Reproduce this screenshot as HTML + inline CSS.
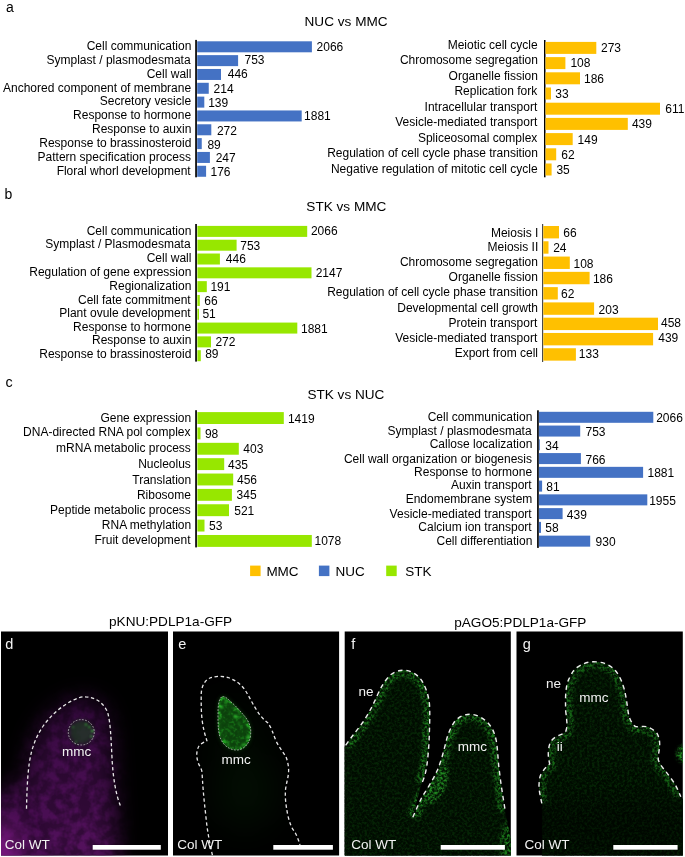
<!DOCTYPE html>
<html><head><meta charset="utf-8"><style>
html,body{margin:0;padding:0;background:#fff;}
body{width:685px;height:857px;overflow:hidden;}
svg{display:block;will-change:transform;}
text{font-family:"Liberation Sans",sans-serif;}
</style></head><body>
<svg width="685" height="857" viewBox="0 0 685 857">
<rect width="685" height="857" fill="#fff"/>
<rect x="195.2" y="39.9" width="1.70" height="137.40" fill="#000"/>
<rect x="197.2" y="41.30" width="114.70" height="11.0" fill="#4472C4"/>
<text x="191.38" y="49.80" font-size="12" fill="#000" text-anchor="end">Cell communication</text>
<text x="316.60" y="50.90" font-size="12" fill="#000" >2066</text>
<rect x="197.2" y="55.13" width="40.90" height="11.0" fill="#4472C4"/>
<text x="190.60" y="63.70" font-size="12" fill="#000" text-anchor="end">Symplast / plasmodesmata</text>
<text x="244.48" y="64.20" font-size="12" fill="#000" >753</text>
<rect x="197.2" y="68.96" width="23.80" height="11.0" fill="#4472C4"/>
<text x="191.40" y="77.70" font-size="12" fill="#000" text-anchor="end">Cell wall</text>
<text x="227.72" y="78.00" font-size="12" fill="#000" >446</text>
<rect x="197.2" y="82.79" width="11.55" height="11.0" fill="#4472C4"/>
<text x="191.13" y="91.50" font-size="12" fill="#000" text-anchor="end">Anchored component of membrane</text>
<text x="213.60" y="92.80" font-size="12" fill="#000" >214</text>
<rect x="197.2" y="96.62" width="7.10" height="11.0" fill="#4472C4"/>
<text x="191.13" y="105.40" font-size="12" fill="#000" text-anchor="end">Secretory vesicle</text>
<text x="208.19" y="106.80" font-size="12" fill="#000" >139</text>
<rect x="197.2" y="110.45" width="104.50" height="11.0" fill="#4472C4"/>
<text x="191.13" y="119.00" font-size="12" fill="#000" text-anchor="end">Response to hormone</text>
<text x="304.09" y="119.50" font-size="12" fill="#000" >1881</text>
<rect x="197.2" y="124.28" width="14.10" height="11.0" fill="#4472C4"/>
<text x="191.38" y="132.90" font-size="12" fill="#000" text-anchor="end">Response to auxin</text>
<text x="216.90" y="135.20" font-size="12" fill="#000" >272</text>
<rect x="197.2" y="138.11" width="4.55" height="11.0" fill="#4472C4"/>
<text x="191.37" y="146.80" font-size="12" fill="#000" text-anchor="end">Response to brassinosteroid</text>
<text x="207.38" y="148.80" font-size="12" fill="#000" >89</text>
<rect x="197.2" y="151.94" width="12.70" height="11.0" fill="#4472C4"/>
<text x="191.03" y="160.70" font-size="12" fill="#000" text-anchor="end">Pattern specification process</text>
<text x="215.70" y="162.20" font-size="12" fill="#000" >247</text>
<rect x="197.2" y="165.77" width="8.90" height="11.0" fill="#4472C4"/>
<text x="190.69" y="174.60" font-size="12" fill="#000" text-anchor="end">Floral whorl development</text>
<text x="210.49" y="176.20" font-size="12" fill="#000" >176</text>
<rect x="544" y="40" width="1.50" height="137.30" fill="#000"/>
<rect x="545.5" y="41.90" width="50.80" height="12.0" fill="#FFC000"/>
<text x="537.73" y="48.60" font-size="12" fill="#000" text-anchor="end">Meiotic cell cycle</text>
<text x="601.00" y="52.20" font-size="12" fill="#000" >273</text>
<rect x="545.5" y="57.10" width="19.90" height="12.0" fill="#FFC000"/>
<text x="537.98" y="63.90" font-size="12" fill="#000" text-anchor="end">Chromosome segregation</text>
<text x="570.39" y="67.40" font-size="12" fill="#000" >108</text>
<rect x="545.5" y="72.30" width="34.50" height="12.0" fill="#FFC000"/>
<text x="537.98" y="79.70" font-size="12" fill="#000" text-anchor="end">Organelle fission</text>
<text x="583.99" y="82.80" font-size="12" fill="#000" >186</text>
<rect x="545.5" y="87.50" width="5.50" height="12.0" fill="#FFC000"/>
<text x="537.18" y="95.20" font-size="12" fill="#000" text-anchor="end">Replication fork</text>
<text x="555.34" y="98.00" font-size="12" fill="#000" >33</text>
<rect x="545.5" y="102.70" width="114.50" height="12.0" fill="#FFC000"/>
<text x="537.29" y="110.60" font-size="12" fill="#000" text-anchor="end">Intracellular transport</text>
<text x="665.29" y="113.00" font-size="12" fill="#000" >611</text>
<rect x="545.5" y="117.90" width="82.30" height="12.0" fill="#FFC000"/>
<text x="537.29" y="126.40" font-size="12" fill="#000" text-anchor="end">Vesicle-mediated transport</text>
<text x="631.92" y="128.00" font-size="12" fill="#000" >439</text>
<rect x="545.5" y="133.10" width="27.20" height="12.0" fill="#FFC000"/>
<text x="537.33" y="141.90" font-size="12" fill="#000" text-anchor="end">Spliceosomal complex</text>
<text x="577.59" y="143.60" font-size="12" fill="#000" >149</text>
<rect x="545.5" y="148.30" width="10.70" height="12.0" fill="#FFC000"/>
<text x="537.98" y="157.40" font-size="12" fill="#000" text-anchor="end">Regulation of cell cycle phase transition</text>
<text x="561.29" y="158.70" font-size="12" fill="#000" >62</text>
<rect x="545.5" y="163.50" width="6.10" height="12.0" fill="#FFC000"/>
<text x="537.73" y="172.90" font-size="12" fill="#000" text-anchor="end">Negative regulation of mitotic cell cycle</text>
<text x="556.44" y="173.70" font-size="12" fill="#000" >35</text>
<rect x="195.2" y="224" width="1.70" height="137.60" fill="#000"/>
<rect x="197.4" y="225.90" width="109.80" height="11.0" fill="#97E700"/>
<text x="191.38" y="234.70" font-size="12" fill="#000" text-anchor="end">Cell communication</text>
<text x="310.90" y="235.40" font-size="12" fill="#000" >2066</text>
<rect x="197.4" y="239.71" width="39.20" height="11.0" fill="#97E700"/>
<text x="190.60" y="248.30" font-size="12" fill="#000" text-anchor="end">Symplast / Plasmodesmata</text>
<text x="240.28" y="249.70" font-size="12" fill="#000" >753</text>
<rect x="197.4" y="253.52" width="22.50" height="11.0" fill="#97E700"/>
<text x="191.40" y="262.00" font-size="12" fill="#000" text-anchor="end">Cell wall</text>
<text x="225.82" y="263.30" font-size="12" fill="#000" >446</text>
<rect x="197.4" y="267.33" width="114.10" height="11.0" fill="#97E700"/>
<text x="191.38" y="276.20" font-size="12" fill="#000" text-anchor="end">Regulation of gene expression</text>
<text x="315.70" y="277.20" font-size="12" fill="#000" >2147</text>
<rect x="197.4" y="281.14" width="9.40" height="11.0" fill="#97E700"/>
<text x="191.38" y="290.00" font-size="12" fill="#000" text-anchor="end">Regionalization</text>
<text x="210.39" y="290.60" font-size="12" fill="#000" >191</text>
<rect x="197.4" y="294.95" width="2.40" height="11.0" fill="#97E700"/>
<text x="190.69" y="304.10" font-size="12" fill="#000" text-anchor="end">Cell fate commitment</text>
<text x="204.29" y="305.00" font-size="12" fill="#000" >66</text>
<rect x="197.4" y="308.76" width="1.60" height="11.0" fill="#97E700"/>
<text x="190.69" y="316.90" font-size="12" fill="#000" text-anchor="end">Plant ovule development</text>
<text x="202.42" y="318.10" font-size="12" fill="#000" >51</text>
<rect x="197.4" y="322.57" width="99.90" height="11.0" fill="#97E700"/>
<text x="191.13" y="330.50" font-size="12" fill="#000" text-anchor="end">Response to hormone</text>
<text x="300.99" y="332.50" font-size="12" fill="#000" >1881</text>
<rect x="197.4" y="336.38" width="13.60" height="11.0" fill="#97E700"/>
<text x="191.38" y="344.30" font-size="12" fill="#000" text-anchor="end">Response to auxin</text>
<text x="215.40" y="346.30" font-size="12" fill="#000" >272</text>
<rect x="197.4" y="350.19" width="3.40" height="11.0" fill="#97E700"/>
<text x="191.37" y="358.00" font-size="12" fill="#000" text-anchor="end">Response to brassinosteroid</text>
<text x="205.18" y="357.70" font-size="12" fill="#000" >89</text>
<rect x="542" y="224" width="1.20" height="138.00" fill="#4a4a4a"/>
<rect x="543.3" y="226.00" width="15.70" height="12.4" fill="#FFC000"/>
<text x="538.31" y="236.50" font-size="12" fill="#000" text-anchor="end">Meiosis I</text>
<text x="563.29" y="236.80" font-size="12" fill="#000" >66</text>
<rect x="543.3" y="241.28" width="5.20" height="12.4" fill="#FFC000"/>
<text x="538.31" y="251.10" font-size="12" fill="#000" text-anchor="end">Meiosis II</text>
<text x="553.20" y="251.70" font-size="12" fill="#000" >24</text>
<rect x="543.3" y="256.56" width="26.50" height="12.4" fill="#FFC000"/>
<text x="537.98" y="266.10" font-size="12" fill="#000" text-anchor="end">Chromosome segregation</text>
<text x="573.49" y="267.80" font-size="12" fill="#000" >108</text>
<rect x="543.3" y="271.84" width="46.30" height="12.4" fill="#FFC000"/>
<text x="537.98" y="280.80" font-size="12" fill="#000" text-anchor="end">Organelle fission</text>
<text x="592.89" y="282.70" font-size="12" fill="#000" >186</text>
<rect x="543.3" y="287.12" width="14.50" height="12.4" fill="#FFC000"/>
<text x="537.98" y="296.40" font-size="12" fill="#000" text-anchor="end">Regulation of cell cycle phase transition</text>
<text x="561.09" y="297.50" font-size="12" fill="#000" >62</text>
<rect x="543.3" y="302.40" width="50.80" height="12.4" fill="#FFC000"/>
<text x="537.98" y="311.70" font-size="12" fill="#000" text-anchor="end">Developmental cell growth</text>
<text x="598.60" y="313.70" font-size="12" fill="#000" >203</text>
<rect x="543.3" y="317.68" width="114.70" height="12.4" fill="#FFC000"/>
<text x="537.29" y="326.60" font-size="12" fill="#000" text-anchor="end">Protein transport</text>
<text x="661.02" y="326.50" font-size="12" fill="#000" >458</text>
<rect x="543.3" y="332.96" width="109.80" height="12.4" fill="#FFC000"/>
<text x="537.29" y="341.90" font-size="12" fill="#000" text-anchor="end">Vesicle-mediated transport</text>
<text x="658.22" y="342.00" font-size="12" fill="#000" >439</text>
<rect x="543.3" y="348.24" width="32.60" height="12.4" fill="#FFC000"/>
<text x="538.00" y="356.60" font-size="12" fill="#000" text-anchor="end">Export from cell</text>
<text x="578.79" y="358.40" font-size="12" fill="#000" >133</text>
<rect x="195.2" y="410.2" width="1.70" height="137.20" fill="#000"/>
<rect x="197.4" y="412.10" width="86.40" height="11.9" fill="#97E700"/>
<text x="191.18" y="421.50" font-size="12" fill="#000" text-anchor="end">Gene expression</text>
<text x="287.89" y="422.70" font-size="12" fill="#000" >1419</text>
<rect x="197.4" y="427.46" width="3.10" height="11.9" fill="#97E700"/>
<text x="190.53" y="436.20" font-size="12" fill="#000" text-anchor="end">DNA-directed RNA pol complex</text>
<text x="204.94" y="437.90" font-size="12" fill="#000" >98</text>
<rect x="197.4" y="442.82" width="41.40" height="11.9" fill="#97E700"/>
<text x="190.83" y="452.10" font-size="12" fill="#000" text-anchor="end">mRNA metabolic process</text>
<text x="243.32" y="453.20" font-size="12" fill="#000" >403</text>
<rect x="197.4" y="458.18" width="26.80" height="11.9" fill="#97E700"/>
<text x="190.83" y="467.60" font-size="12" fill="#000" text-anchor="end">Nucleolus</text>
<text x="228.02" y="468.50" font-size="12" fill="#000" >435</text>
<rect x="197.4" y="473.54" width="35.80" height="11.9" fill="#97E700"/>
<text x="191.18" y="483.90" font-size="12" fill="#000" text-anchor="end">Translation</text>
<text x="237.02" y="484.20" font-size="12" fill="#000" >456</text>
<rect x="197.4" y="488.90" width="34.50" height="11.9" fill="#97E700"/>
<text x="190.93" y="499.30" font-size="12" fill="#000" text-anchor="end">Ribosome</text>
<text x="236.54" y="499.10" font-size="12" fill="#000" >345</text>
<rect x="197.4" y="504.26" width="31.60" height="11.9" fill="#97E700"/>
<text x="190.83" y="513.80" font-size="12" fill="#000" text-anchor="end">Peptide metabolic process</text>
<text x="234.22" y="514.90" font-size="12" fill="#000" >521</text>
<rect x="197.4" y="519.62" width="7.10" height="11.9" fill="#97E700"/>
<text x="191.18" y="528.70" font-size="12" fill="#000" text-anchor="end">RNA methylation</text>
<text x="209.12" y="529.80" font-size="12" fill="#000" >53</text>
<rect x="197.4" y="534.98" width="114.40" height="11.9" fill="#97E700"/>
<text x="190.49" y="544.00" font-size="12" fill="#000" text-anchor="end">Fruit development</text>
<text x="314.49" y="544.90" font-size="12" fill="#000" >1078</text>
<rect x="537.1" y="410.3" width="1.70" height="137.60" fill="#000"/>
<rect x="538.9" y="411.80" width="114.40" height="11.0" fill="#4472C4"/>
<text x="532.38" y="420.90" font-size="12" fill="#000" text-anchor="end">Cell communication</text>
<text x="656.20" y="422.00" font-size="12" fill="#000" >2066</text>
<rect x="538.9" y="425.56" width="41.30" height="11.0" fill="#4472C4"/>
<text x="531.60" y="434.60" font-size="12" fill="#000" text-anchor="end">Symplast / plasmodesmata</text>
<text x="585.48" y="436.20" font-size="12" fill="#000" >753</text>
<rect x="538.9" y="439.32" width="0.90" height="11.0" fill="#4472C4"/>
<text x="532.38" y="448.40" font-size="12" fill="#000" text-anchor="end">Callose localization</text>
<text x="545.24" y="449.50" font-size="12" fill="#000" >34</text>
<rect x="538.9" y="453.08" width="42.00" height="11.0" fill="#4472C4"/>
<text x="532.03" y="462.60" font-size="12" fill="#000" text-anchor="end">Cell wall organization or biogenesis</text>
<text x="585.48" y="463.70" font-size="12" fill="#000" >766</text>
<rect x="538.9" y="466.84" width="104.20" height="11.0" fill="#4472C4"/>
<text x="532.13" y="475.80" font-size="12" fill="#000" text-anchor="end">Response to hormone</text>
<text x="647.49" y="477.00" font-size="12" fill="#000" >1881</text>
<rect x="538.9" y="480.60" width="3.20" height="11.0" fill="#4472C4"/>
<text x="531.69" y="489.40" font-size="12" fill="#000" text-anchor="end">Auxin transport</text>
<text x="546.28" y="490.50" font-size="12" fill="#000" >81</text>
<rect x="538.9" y="494.36" width="108.40" height="11.0" fill="#4472C4"/>
<text x="532.39" y="503.30" font-size="12" fill="#000" text-anchor="end">Endomembrane system</text>
<text x="649.19" y="505.30" font-size="12" fill="#000" >1955</text>
<rect x="538.9" y="508.12" width="23.70" height="11.0" fill="#4472C4"/>
<text x="531.69" y="518.00" font-size="12" fill="#000" text-anchor="end">Vesicle-mediated transport</text>
<text x="566.82" y="518.50" font-size="12" fill="#000" >439</text>
<rect x="538.9" y="521.88" width="2.10" height="11.0" fill="#4472C4"/>
<text x="531.69" y="531.10" font-size="12" fill="#000" text-anchor="end">Calcium ion transport</text>
<text x="545.22" y="532.20" font-size="12" fill="#000" >58</text>
<rect x="538.9" y="535.64" width="51.30" height="11.0" fill="#4472C4"/>
<text x="532.38" y="544.60" font-size="12" fill="#000" text-anchor="end">Cell differentiation</text>
<text x="595.54" y="545.50" font-size="12" fill="#000" >930</text>
<text x="304.55" y="25.60" font-size="13.6" fill="#000" >NUC vs MMC</text>
<text x="306.36" y="210.60" font-size="13.6" fill="#000" >STK vs MMC</text>
<text x="307.41" y="398.90" font-size="13.6" fill="#000" >STK vs NUC</text>
<text x="6.01" y="11.50" font-size="14" fill="#000" >a</text>
<text x="4.60" y="199.00" font-size="14" fill="#000" >b</text>
<text x="5.49" y="387.00" font-size="14.3" fill="#000" >c</text>
<rect x="250.1" y="565.6" width="10.5" height="10.5" fill="#FFC000"/>
<text x="266.39" y="575.70" font-size="13.5" fill="#000" >MMC</text>
<rect x="318.9" y="565.6" width="10.5" height="10.5" fill="#4472C4"/>
<text x="335.59" y="575.70" font-size="13.5" fill="#000" >NUC</text>
<rect x="386.2" y="565.6" width="10.5" height="10.5" fill="#97E700"/>
<text x="405.19" y="575.70" font-size="13.5" fill="#000" >STK</text>
<defs>
<clipPath id="cd"><rect x="1" y="631.5" width="167" height="224"/></clipPath>
<clipPath id="ce"><rect x="173" y="631.5" width="166.1" height="224"/></clipPath>
<clipPath id="cf"><rect x="344.7" y="631.5" width="166.1" height="224"/></clipPath>
<clipPath id="cg"><rect x="516.5" y="631.5" width="166.3" height="224"/></clipPath>
<clipPath id="tisF"><path d="M340,745.4 L345.6,745.4 C352,736 358,729 363,722 C369,713 373,705 377,696 C381,687 385,680 391,674.5 C396,671 400,670 405,670.2 C412,671 418,675 422,681 C426,688 429,696 429.6,706 C430,716 429.6,726 429.3,735 C429,746 428,758 426.5,768 C425,776 423,781 421,785 L412.8,817.3 C416,810 419,803 422,797 C427,789 433,780 437,771 C441,762 444,750 446,742 C448,733 451,727 455,721 C460,716 465,714.3 470,714.3 C476,714.5 482,717 487,722 C492,727 495,733 496.5,742 C498,752 498,762 499.5,772 C501,785 503,797 505.4,811.8 L509,830 L515,860 L340,860 Z"/></clipPath>
<clipPath id="tisG"><path d="M541.8,803.4 C540.5,797 538.5,789 539.1,783.5 C539.5,778 540,775.5 541.8,772.9 C544,769 547,766.5 549.7,763.7 C548.5,759 548,755 548.4,751.8 C548.8,747 549.5,743.5 551.1,741.2 C553,738.5 555.5,737 557.7,735.9 C561,734.5 564,733.5 565.6,731.9 C567,728 567.2,725 566.9,722.6 C566.5,716 565.6,712 565.6,709.4 C565.5,704 565.5,700 565.6,696.2 C566,688 567,682 569.6,677.6 C572,672.5 574,669.5 577.5,667.1 C582,664 586,662.5 590.8,661.8 C595,661.5 600,662 604,663.1 C608,664.5 612,667 614.6,669.7 C617.5,673 619.5,676.5 621.2,680.3 C623,685 624.5,689.5 625.2,693.5 C626.5,699 627,704 627.8,709.4 C628.5,714 629,717.5 630.5,720 C632,723 633.5,725.5 635.8,726.6 C639,727 643,726 646.3,726.6 C650,727.5 654,730 656.9,733.2 C659,737 660,741 659.6,746.5 C659.3,751 658,755 658.3,759.7 C659.5,763.5 662,767 664.9,770.3 C667.5,773.5 670,777 672.8,780.9 C676,785.5 678.5,791 680.8,796.8 L684,800 L684,860 L541.8,860 Z"/></clipPath>
<clipPath id="tisE"><path d="M212.4,855.1 C210,845 207,830 205.8,815.4 C204,800 203,790 202,772 C201.5,768 199,766 198,762 C196,756 196.5,750 199,746 C201,743 205,742 206.9,740.7 C205,735 203,728 202,719 C201,710 201.2,700 201.2,694 C201.5,686 205,680 210,678 C215,676 222,676 228,677.5 C235,680 241,684 245,690 C249,696 252,703 256,709 C260,716 264,720 268,723 C271,727 273,733 276,741 C279,747 283,752 286,757 C288,762 289,768 288.5,773 C288,779 286,784 285.5,790 C285,797 285.5,803 287.8,815.4 C290,824 292,829 294.5,831.3 C297,836 299,841 300,845 L300,860 L212.4,860 Z"/></clipPath>
<clipPath id="tear"><path d="M221.5,696.9 C218,700 218,709 218,715 C218,725 218,733 221,739.6 C224,746 230,750 236.7,750.1 C243,750 248,745 250.1,738.4 C251,733 251,729 250,726 C248,720 246,718 244.9,716.5 C241,712 236,706 230,701 C226,697 224,696 221.5,696.9 Z"/></clipPath>
<filter id="td" filterUnits="userSpaceOnUse" x="1" y="631.5" width="167" height="224" color-interpolation-filters="sRGB">
<feGaussianBlur in="SourceGraphic" stdDeviation="11" result="g"/>
<feTurbulence type="fractalNoise" baseFrequency="0.1" numOctaves="3" seed="3" result="n"/>
<feColorMatrix in="n" type="matrix" values="0 0 0 0 1  0 0 0 0 1  0 0 0 0 1  3 0 0 0 -1.1" result="m"/>
<feComposite in="g" in2="m" operator="arithmetic" k1="0.45" k2="0.75" k3="0" k4="0"/>
</filter>
<filter id="te" filterUnits="userSpaceOnUse" x="173" y="631.5" width="166.1" height="224" color-interpolation-filters="sRGB">
<feGaussianBlur in="SourceGraphic" stdDeviation="1.2" result="g"/>
<feTurbulence type="fractalNoise" baseFrequency="0.25" numOctaves="3" seed="5" result="n"/>
<feColorMatrix in="n" type="matrix" values="0 0 0 0 1  0 0 0 0 1  0 0 0 0 1  3 0 0 0 -1.1" result="m"/>
<feComposite in="g" in2="m" operator="arithmetic" k1="1.0" k2="0.4" k3="0" k4="0"/>
</filter>
<filter id="tf" filterUnits="userSpaceOnUse" x="344.7" y="631.5" width="166.1" height="224" color-interpolation-filters="sRGB">
<feGaussianBlur in="SourceGraphic" stdDeviation="1.5" result="g"/>
<feTurbulence type="fractalNoise" baseFrequency="0.4" numOctaves="3" seed="7" result="n"/>
<feColorMatrix in="n" type="matrix" values="0 0 0 0 1  0 0 0 0 1  0 0 0 0 1  3 0 0 0 -1.1" result="m"/>
<feComposite in="g" in2="m" operator="arithmetic" k1="1.5" k2="0.15" k3="0" k4="0"/>
</filter>
<filter id="tg" filterUnits="userSpaceOnUse" x="516.5" y="631.5" width="166.3" height="224" color-interpolation-filters="sRGB">
<feGaussianBlur in="SourceGraphic" stdDeviation="1.5" result="g"/>
<feTurbulence type="fractalNoise" baseFrequency="0.4" numOctaves="3" seed="9" result="n"/>
<feColorMatrix in="n" type="matrix" values="0 0 0 0 1  0 0 0 0 1  0 0 0 0 1  3 0 0 0 -1.1" result="m"/>
<feComposite in="g" in2="m" operator="arithmetic" k1="1.5" k2="0.15" k3="0" k4="0"/>
</filter>
<filter id="b1" filterUnits="userSpaceOnUse" x="0" y="600" width="685" height="257" color-interpolation-filters="sRGB"><feGaussianBlur stdDeviation="0.8"/></filter>
<filter id="b2" filterUnits="userSpaceOnUse" x="0" y="600" width="685" height="257" color-interpolation-filters="sRGB"><feGaussianBlur stdDeviation="2"/></filter>
<filter id="b3" filterUnits="userSpaceOnUse" x="0" y="600" width="685" height="257" color-interpolation-filters="sRGB"><feGaussianBlur stdDeviation="3"/></filter>
<filter id="b4" filterUnits="userSpaceOnUse" x="0" y="600" width="685" height="257" color-interpolation-filters="sRGB"><feGaussianBlur stdDeviation="4"/></filter>
<filter id="b6" filterUnits="userSpaceOnUse" x="0" y="600" width="685" height="257" color-interpolation-filters="sRGB"><feGaussianBlur stdDeviation="6"/></filter>
<filter id="b8" filterUnits="userSpaceOnUse" x="0" y="600" width="685" height="257" color-interpolation-filters="sRGB"><feGaussianBlur stdDeviation="8"/></filter>
<filter id="b14" filterUnits="userSpaceOnUse" x="0" y="600" width="685" height="257" color-interpolation-filters="sRGB"><feGaussianBlur stdDeviation="14"/></filter>
<filter id="b20" filterUnits="userSpaceOnUse" x="0" y="600" width="685" height="257" color-interpolation-filters="sRGB"><feGaussianBlur stdDeviation="20"/></filter>
</defs>
<rect x="1" y="631.5" width="167" height="224" fill="#000"/>
<rect x="173" y="631.5" width="166.1" height="224" fill="#000"/>
<rect x="344.7" y="631.5" width="166.1" height="224" fill="#000"/>
<rect x="516.5" y="631.5" width="166.3" height="224" fill="#000"/>
<defs><linearGradient id="pg" x1="0" y1="0" x2="0" y2="1"><stop offset="0" stop-color="#2a0732"/><stop offset="0.3" stop-color="#360a3e"/><stop offset="0.65" stop-color="#3e0c46"/><stop offset="1" stop-color="#4a0f52"/></linearGradient></defs>
<g clip-path="url(#cd)">
<g filter="url(#td)">
<path d="M22,870 L24,800 C26,770 30,745 40,728 C52,710 70,698 84,698 C100,699 108,710 110,730 C112,760 114,800 118,870 Z" fill="url(#pg)"/>
<ellipse cx="15" cy="835" rx="30" ry="50" fill="#3a0b42"/>
</g>
<g filter="url(#b14)">
<ellipse cx="0" cy="855" rx="16" ry="32" fill="#8a1c90"/>
</g>
<circle cx="81.3" cy="732.3" r="12" fill="#203a24" opacity="0.75" filter="url(#b2)"/>
<circle cx="86" cy="724.5" r="0.9" fill="#44d044" filter="url(#b1)"/>
<circle cx="89.5" cy="727" r="0.9" fill="#44d044" filter="url(#b1)"/>
<circle cx="92.5" cy="731" r="1.2" fill="#44d044" filter="url(#b1)"/>
<circle cx="91.5" cy="736.5" r="1.0" fill="#44d044" filter="url(#b1)"/>
<circle cx="76" cy="742" r="0.8" fill="#44d044" filter="url(#b1)"/>
<circle cx="73" cy="727" r="0.7" fill="#44d044" filter="url(#b1)"/>
</g>
<path d="M26.5,808.8 C27,785 28,765 31.5,752 C36,735 44,722 58,710 C68,702 78,697 84,696.8 C95,697 103,702 107.5,712 C110.5,722 111,738 112,758 C113,778 116,795 120.5,806" fill="none" stroke="#e8e8e8" stroke-width="1.3" stroke-dasharray="3.4 2.6"/>
<ellipse cx="81.3" cy="732.3" rx="13" ry="12.7" fill="none" stroke="#bdbdbd" stroke-width="0.8" stroke-dasharray="1.8 1.4"/>
<g clip-path="url(#ce)">
<g clip-path="url(#tisE)"><g filter="url(#b20)">
<ellipse cx="245" cy="790" rx="30" ry="40" fill="#020f02"/>
<ellipse cx="235" cy="730" rx="22" ry="25" fill="#010a01"/>
</g></g>
<path d="M221.5,696.9 C218,700 218,709 218,715 C218,725 218,733 221,739.6 C224,746 230,750 236.7,750.1 C243,750 248,745 250.1,738.4 C251,733 251,729 250,726 C248,720 246,718 244.9,716.5 C241,712 236,706 230,701 C226,697 224,696 221.5,696.9 Z" fill="#0a3a0a" filter="url(#b2)"/>
<g clip-path="url(#tear)">
<g filter="url(#te)"><path d="M221.5,696.9 C218,700 218,709 218,715 C218,725 218,733 221,739.6 C224,746 230,750 236.7,750.1 C243,750 248,745 250.1,738.4 C251,733 251,729 250,726 C248,720 246,718 244.9,716.5 C241,712 236,706 230,701 C226,697 224,696 221.5,696.9 Z" fill="#0e4a0e"/><path d="M221.5,696.9 C218,700 218,709 218,715 C218,725 218,733 221,739.6 C224,746 230,750 236.7,750.1 C243,750 248,745 250.1,738.4 C251,733 251,729 250,726 C248,720 246,718 244.9,716.5 C241,712 236,706 230,701 C226,697 224,696 221.5,696.9 Z" fill="none" stroke="#1a7a1a" stroke-width="6"/></g>
</g>
<circle cx="221.5" cy="707" r="1.6" fill="#30c030" filter="url(#b1)"/>
<circle cx="235.5" cy="716.5" r="1.8" fill="#30c030" filter="url(#b1)"/>
<circle cx="248.5" cy="737" r="1.5" fill="#38d038" filter="url(#b1)"/>
<circle cx="243" cy="745" r="1.5" fill="#2cb02c" filter="url(#b1)"/>
<circle cx="228" cy="745" r="1.2" fill="#28a028" filter="url(#b1)"/>
<circle cx="231" cy="727" r="1.2" fill="#208a20" filter="url(#b1)"/>
<circle cx="239" cy="723" r="1.0" fill="#208a20" filter="url(#b1)"/>
<circle cx="226" cy="733" r="1.0" fill="#1c7a1c" filter="url(#b1)"/>
</g>
<path d="M212.4,855.1 C210,845 207,830 205.8,815.4 C204,800 203,790 202,772 C201.5,768 199,766 198,762 C196,756 196.5,750 199,746 C201,743 205,742 206.9,740.7 C205,735 203,728 202,719 C201,710 201.2,700 201.2,694 C201.5,686 205,680 210,678 C215,676 222,676 228,677.5 C235,680 241,684 245,690 C249,696 252,703 256,709 C260,716 264,720 268,723 C271,727 273,733 276,741 C279,747 283,752 286,757 C288,762 289,768 288.5,773 C288,779 286,784 285.5,790 C285,797 285.5,803 287.8,815.4 C290,824 292,829 294.5,831.3 C297,836 299,841 300,845" fill="none" stroke="#e8e8e8" stroke-width="1.3" stroke-dasharray="3.4 2.6"/>
<path d="M221.5,696.9 C218,700 218,709 218,715 C218,725 218,733 221,739.6 C224,746 230,750 236.7,750.1 C243,750 248,745 250.1,738.4 C251,733 251,729 250,726 C248,720 246,718 244.9,716.5 C241,712 236,706 230,701 C226,697 224,696 221.5,696.9 Z" fill="none" stroke="#bdbdbd" stroke-width="0.8" stroke-dasharray="1.8 1.4"/>
<g clip-path="url(#cf)"><g clip-path="url(#tisF)">
<path d="M340,745.4 L345.6,745.4 C352,736 358,729 363,722 C369,713 373,705 377,696 C381,687 385,680 391,674.5 C396,671 400,670 405,670.2 C412,671 418,675 422,681 C426,688 429,696 429.6,706 C430,716 429.6,726 429.3,735 C429,746 428,758 426.5,768 C425,776 423,781 421,785 L412.8,817.3 C416,810 419,803 422,797 C427,789 433,780 437,771 C441,762 444,750 446,742 C448,733 451,727 455,721 C460,716 465,714.3 470,714.3 C476,714.5 482,717 487,722 C492,727 495,733 496.5,742 C498,752 498,762 499.5,772 C501,785 503,797 505.4,811.8 L509,830 L515,860 L340,860 Z" fill="#010a01"/>
<g filter="url(#tf)">
<path d="M340,745.4 L345.6,745.4 C352,736 358,729 363,722 C369,713 373,705 377,696 C381,687 385,680 391,674.5 C396,671 400,670 405,670.2 C412,671 418,675 422,681 C426,688 429,696 429.6,706 C430,716 429.6,726 429.3,735 C429,746 428,758 426.5,768 C425,776 423,781 421,785 L412.8,817.3 C416,810 419,803 422,797 C427,789 433,780 437,771 C441,762 444,750 446,742 C448,733 451,727 455,721 C460,716 465,714.3 470,714.3 C476,714.5 482,717 487,722 C492,727 495,733 496.5,742 C498,752 498,762 499.5,772 C501,785 503,797 505.4,811.8 L509,830 L515,860 L340,860 Z" fill="#031603"/>
<path d="M345.6,745.4 C352,736 358,729 363,722 C369,713 373,705 377,696 C381,687 385,680 391,674.5 C396,671 400,670 405,670.2 C412,671 418,675 422,681 C426,688 429,696 429.6,706 C430,716 429.6,726 429.3,735 C429,746 428,758 426.5,768 C425,776 423,781 421,785" fill="none" stroke="#0f460f" stroke-width="14"/>
<path d="M412.8,817.3 C416,810 419,803 422,797 C427,789 433,780 437,771 C441,762 444,750 446,742 C448,733 451,727 455,721 C460,716 465,714.3 470,714.3 C476,714.5 482,717 487,722 C492,727 495,733 496.5,742 C498,752 498,762 499.5,772 C501,785 503,797 505.4,811.8" fill="none" stroke="#0f460f" stroke-width="14"/>
<ellipse cx="437" cy="785" rx="9" ry="20" fill="#135213" transform="rotate(25 437 785)"/>
<ellipse cx="510" cy="845" rx="10" ry="25" fill="#104a10"/>
</g>
</g></g>
<path d="M345.6,745.4 C352,736 358,729 363,722 C369,713 373,705 377,696 C381,687 385,680 391,674.5 C396,671 400,670 405,670.2 C412,671 418,675 422,681 C426,688 429,696 429.6,706 C430,716 429.6,726 429.3,735 C429,746 428,758 426.5,768 C425,776 423,781 421,785" fill="none" stroke="#ededed" stroke-width="1.4" stroke-dasharray="4.6 3.8"/>
<path d="M412.8,817.3 C416,810 419,803 422,797 C427,789 433,780 437,771 C441,762 444,750 446,742 C448,733 451,727 455,721 C460,716 465,714.3 470,714.3 C476,714.5 482,717 487,722 C492,727 495,733 496.5,742 C498,752 498,762 499.5,772 C501,785 503,797 505.4,811.8" fill="none" stroke="#ededed" stroke-width="1.4" stroke-dasharray="4.6 3.8"/>
<g clip-path="url(#cg)">
<g clip-path="url(#tisG)">
<path d="M541.8,803.4 C540.5,797 538.5,789 539.1,783.5 C539.5,778 540,775.5 541.8,772.9 C544,769 547,766.5 549.7,763.7 C548.5,759 548,755 548.4,751.8 C548.8,747 549.5,743.5 551.1,741.2 C553,738.5 555.5,737 557.7,735.9 C561,734.5 564,733.5 565.6,731.9 C567,728 567.2,725 566.9,722.6 C566.5,716 565.6,712 565.6,709.4 C565.5,704 565.5,700 565.6,696.2 C566,688 567,682 569.6,677.6 C572,672.5 574,669.5 577.5,667.1 C582,664 586,662.5 590.8,661.8 C595,661.5 600,662 604,663.1 C608,664.5 612,667 614.6,669.7 C617.5,673 619.5,676.5 621.2,680.3 C623,685 624.5,689.5 625.2,693.5 C626.5,699 627,704 627.8,709.4 C628.5,714 629,717.5 630.5,720 C632,723 633.5,725.5 635.8,726.6 C639,727 643,726 646.3,726.6 C650,727.5 654,730 656.9,733.2 C659,737 660,741 659.6,746.5 C659.3,751 658,755 658.3,759.7 C659.5,763.5 662,767 664.9,770.3 C667.5,773.5 670,777 672.8,780.9 C676,785.5 678.5,791 680.8,796.8 L684,800 L684,860 L541.8,860 Z" fill="#010a01"/>
<g filter="url(#tg)">
<path d="M541.8,803.4 C540.5,797 538.5,789 539.1,783.5 C539.5,778 540,775.5 541.8,772.9 C544,769 547,766.5 549.7,763.7 C548.5,759 548,755 548.4,751.8 C548.8,747 549.5,743.5 551.1,741.2 C553,738.5 555.5,737 557.7,735.9 C561,734.5 564,733.5 565.6,731.9 C567,728 567.2,725 566.9,722.6 C566.5,716 565.6,712 565.6,709.4 C565.5,704 565.5,700 565.6,696.2 C566,688 567,682 569.6,677.6 C572,672.5 574,669.5 577.5,667.1 C582,664 586,662.5 590.8,661.8 C595,661.5 600,662 604,663.1 C608,664.5 612,667 614.6,669.7 C617.5,673 619.5,676.5 621.2,680.3 C623,685 624.5,689.5 625.2,693.5 C626.5,699 627,704 627.8,709.4 C628.5,714 629,717.5 630.5,720 C632,723 633.5,725.5 635.8,726.6 C639,727 643,726 646.3,726.6 C650,727.5 654,730 656.9,733.2 C659,737 660,741 659.6,746.5 C659.3,751 658,755 658.3,759.7 C659.5,763.5 662,767 664.9,770.3 C667.5,773.5 670,777 672.8,780.9 C676,785.5 678.5,791 680.8,796.8 L684,800 L684,860 L541.8,860 Z" fill="#031603"/>
<path d="M541.8,803.4 C540.5,797 538.5,789 539.1,783.5 C539.5,778 540,775.5 541.8,772.9 C544,769 547,766.5 549.7,763.7 C548.5,759 548,755 548.4,751.8 C548.8,747 549.5,743.5 551.1,741.2 C553,738.5 555.5,737 557.7,735.9 C561,734.5 564,733.5 565.6,731.9 C567,728 567.2,725 566.9,722.6 C566.5,716 565.6,712 565.6,709.4 C565.5,704 565.5,700 565.6,696.2 C566,688 567,682 569.6,677.6 C572,672.5 574,669.5 577.5,667.1 C582,664 586,662.5 590.8,661.8 C595,661.5 600,662 604,663.1 C608,664.5 612,667 614.6,669.7 C617.5,673 619.5,676.5 621.2,680.3 C623,685 624.5,689.5 625.2,693.5 C626.5,699 627,704 627.8,709.4 C628.5,714 629,717.5 630.5,720 C632,723 633.5,725.5 635.8,726.6 C639,727 643,726 646.3,726.6 C650,727.5 654,730 656.9,733.2 C659,737 660,741 659.6,746.5 C659.3,751 658,755 658.3,759.7 C659.5,763.5 662,767 664.9,770.3 C667.5,773.5 670,777 672.8,780.9 C676,785.5 678.5,791 680.8,796.8" fill="none" stroke="#0d3e0d" stroke-width="14"/>
</g>
<rect x="516" y="800" width="170" height="60" fill="#000" opacity="0.35" filter="url(#b14)"/>
</g>
<g filter="url(#tg)"><circle cx="686" cy="754" r="10" fill="#135213"/></g>
</g>
<path d="M541.8,803.4 C540.5,797 538.5,789 539.1,783.5 C539.5,778 540,775.5 541.8,772.9 C544,769 547,766.5 549.7,763.7 C548.5,759 548,755 548.4,751.8 C548.8,747 549.5,743.5 551.1,741.2 C553,738.5 555.5,737 557.7,735.9 C561,734.5 564,733.5 565.6,731.9 C567,728 567.2,725 566.9,722.6 C566.5,716 565.6,712 565.6,709.4 C565.5,704 565.5,700 565.6,696.2 C566,688 567,682 569.6,677.6 C572,672.5 574,669.5 577.5,667.1 C582,664 586,662.5 590.8,661.8 C595,661.5 600,662 604,663.1 C608,664.5 612,667 614.6,669.7 C617.5,673 619.5,676.5 621.2,680.3 C623,685 624.5,689.5 625.2,693.5 C626.5,699 627,704 627.8,709.4 C628.5,714 629,717.5 630.5,720 C632,723 633.5,725.5 635.8,726.6 C639,727 643,726 646.3,726.6 C650,727.5 654,730 656.9,733.2 C659,737 660,741 659.6,746.5 C659.3,751 658,755 658.3,759.7 C659.5,763.5 662,767 664.9,770.3 C667.5,773.5 670,777 672.8,780.9 C676,785.5 678.5,791 680.8,796.8" fill="none" stroke="#ededed" stroke-width="1.4" stroke-dasharray="4.6 3.8"/>
<text x="109.02" y="625.90" font-size="13.6" fill="#000" >pKNU:PDLP1a-GFP</text>
<text x="454.22" y="626.70" font-size="13.6" fill="#000" >pAGO5:PDLP1a-GFP</text>
<text x="5.29" y="648.70" font-size="14.5" fill="#f2f2f2" >d</text>
<text x="178.28" y="648.70" font-size="14.5" fill="#f2f2f2" >e</text>
<text x="351.19" y="648.70" font-size="14.5" fill="#f2f2f2" >f</text>
<text x="522.69" y="648.70" font-size="14.5" fill="#f2f2f2" >g</text>
<text x="4.71" y="849.40" font-size="13.5" fill="#f2f2f2" >Col WT</text>
<text x="177.31" y="849.40" font-size="13.5" fill="#f2f2f2" >Col WT</text>
<text x="351.31" y="849.40" font-size="13.5" fill="#f2f2f2" >Col WT</text>
<text x="524.41" y="849.40" font-size="13.5" fill="#f2f2f2" >Col WT</text>
<rect x="92.7" y="845" width="68.1" height="4.7" fill="#fff"/>
<rect x="273.3" y="845" width="59.6" height="4.7" fill="#fff"/>
<rect x="440.7" y="845" width="64.2" height="4.7" fill="#fff"/>
<rect x="613.3" y="845" width="64.3" height="4.7" fill="#fff"/>
<text x="62.10" y="755.80" font-size="13.5" fill="#f2f2f2" >mmc</text>
<text x="221.50" y="763.70" font-size="13.5" fill="#f2f2f2" >mmc</text>
<text x="358.60" y="695.50" font-size="13.5" fill="#f2f2f2" >ne</text>
<text x="457.80" y="751.00" font-size="13.5" fill="#f2f2f2" >mmc</text>
<text x="546.10" y="688.20" font-size="13.5" fill="#f2f2f2" >ne</text>
<text x="579.30" y="702.00" font-size="13.5" fill="#f2f2f2" >mmc</text>
<text x="556.80" y="751.20" font-size="13.5" fill="#f2f2f2" >ii</text>
</svg>
</body></html>
